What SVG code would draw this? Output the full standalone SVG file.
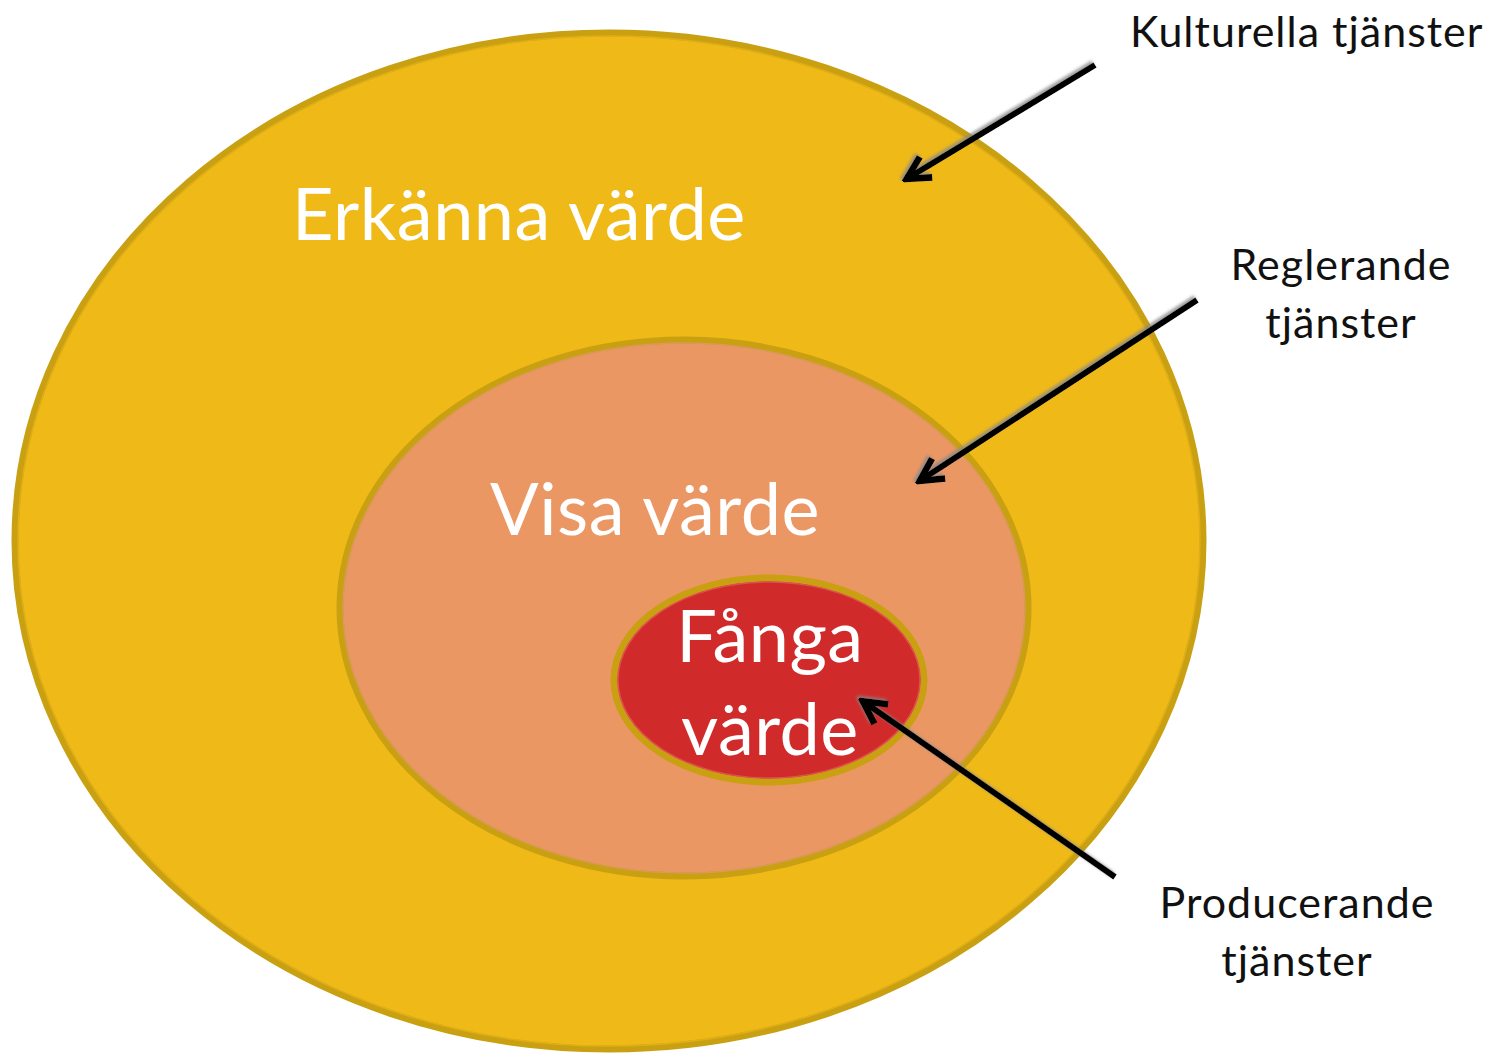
<svg xmlns="http://www.w3.org/2000/svg" width="1502" height="1055" viewBox="0 0 1502 1055">
<style>
.ring{stroke:#C9A012;stroke-width:7}
.inner{fill:none;stroke-width:1.5}
.big{font-family:Lato,"Open Sans",sans-serif;fill:#fff;font-size:72px;letter-spacing:0.5px}
.lbl{font-family:Lato,"Open Sans",sans-serif;fill:#111;font-size:43px;letter-spacing:1px}
.arr{stroke:#000;stroke-width:6;fill:none;marker-end:url(#ah)}
</style>
<defs>
<marker id="ah" viewBox="0 0 10 10" refX="8" refY="5" markerWidth="5" markerHeight="5" orient="auto" markerUnits="strokeWidth">
<path d="M1,1 L8.5,5 L1,9" fill="none" stroke="#000" stroke-width="2.2" stroke-linejoin="miter"/>
</marker>
<filter id="sh" x="-10%" y="-10%" width="120%" height="120%"><feDropShadow dx="-2" dy="-2" stdDeviation="1.5" flood-color="#888" flood-opacity="0.8"/></filter>
</defs>
<g id="outer">
<ellipse class="ring" cx="609" cy="541" rx="594" ry="508" fill="#EFB918"/>
<ellipse class="inner" cx="609" cy="541" rx="591" ry="505" stroke="#E0AE16"/>
<text class="big" x="292" y="240">Erkänna värde</text>
</g>
<g id="middle">
<ellipse class="ring" cx="684" cy="608" rx="344" ry="268" fill="#EB9764"/>
<ellipse class="inner" cx="684" cy="608" rx="341" ry="265" stroke="#D89A55"/>
<text class="big" x="490" y="535">Visa värde</text>
</g>
<g id="center">
<ellipse class="ring" cx="769" cy="680" rx="155" ry="102" fill="#D12A2A"/>
<ellipse class="inner" cx="769" cy="680" rx="151" ry="98" stroke="#E05050"/>
<text class="big" x="770" y="662" text-anchor="middle">Fånga</text>
<text class="big" x="770" y="755" text-anchor="middle">värde</text>
</g>
<g id="labels">
<text class="lbl" x="1130" y="47">Kulturella tjänster</text>
<text class="lbl" x="1341" y="280" text-anchor="middle">Reglerande</text>
<text class="lbl" x="1341" y="338" text-anchor="middle">tjänster</text>
<text class="lbl" x="1297" y="918" text-anchor="middle">Producerande</text>
<text class="lbl" x="1297" y="976" text-anchor="middle">tjänster</text>
</g>
<g id="connectors" filter="url(#sh)">
<line class="arr" x1="1095" y1="65" x2="908" y2="178"/>
<line class="arr" x1="1197" y1="300" x2="921" y2="480"/>
<line class="arr" x1="1115" y1="877" x2="864" y2="702"/>
</g>
</svg>
